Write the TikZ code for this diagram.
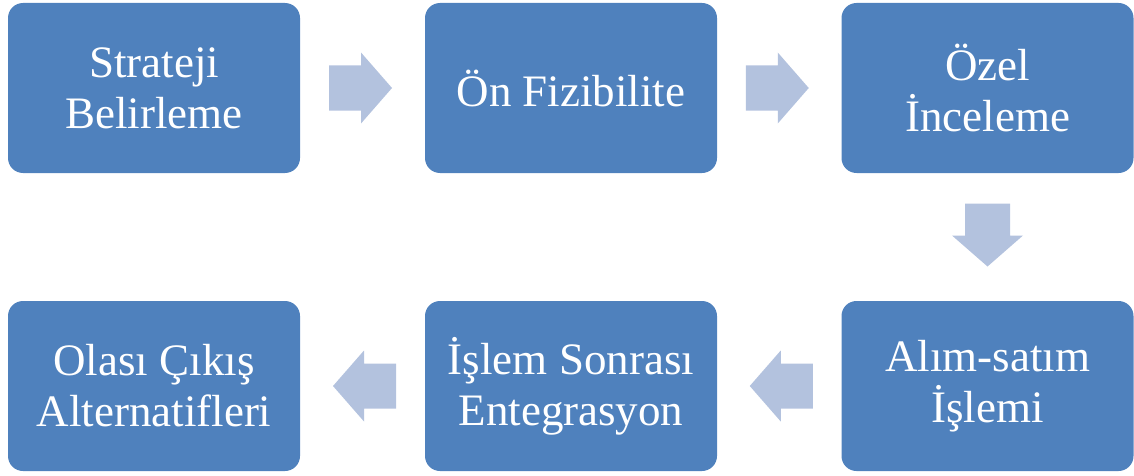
\documentclass[tikz,border=0pt]{standalone}
\usepackage{fontspec}
\setmainfont{Liberation Serif}
\usetikzlibrary{calc}
\definecolor{boxblue}{HTML}{4F81BD}
\definecolor{arrowblue}{HTML}{B3C2DE}
\tikzset{
  stepbox/.style={fill=boxblue, rounded corners=15pt, minimum width=292pt, minimum height=170pt,
    text=white, align=center, inner sep=0pt,
    font=\fontsize{45}{51}\selectfont},
  blockarrow/.pic={\fill[arrowblue] (-33.5,-22.5) -- (-1.5,-22.5) -- (-1.5,-35.5) -- (29.5,0) -- (-1.5,35.5) -- (-1.5,22.5) -- (-33.5,22.5) -- cycle;}
}
\begin{document}
\begin{tikzpicture}[x=1pt,y=1pt]
\useasboundingbox (0,0) rectangle (1134,475);
\node[stepbox] (s1) at (154,387) {Strateji\\Belirleme};
\node[stepbox] (s2) at (571,387) {Ön Fizibilite};
\node[stepbox] (s3) at (987.5,387) {Özel\\İnceleme};
\node[stepbox] (s4) at (987.5,89) {Alım-satım\\İşlemi};
\node[stepbox] (s5) at (571,89) {İşlem Sonrası\\Entegrasyon};
\node[stepbox] (s6) at (154,89) {Olası Çıkış\\Alternatifleri};
\pic at ($(s1.east)!0.5!(s2.west)$) {blockarrow};
\pic at ($(s2.east)!0.5!(s3.west)$) {blockarrow};
\pic[rotate=-90] at ($(s3.south)!0.5!(s4.north)$) {blockarrow};
\pic[rotate=180] at ($(s4.west)!0.5!(s5.east)$) {blockarrow};
\pic[rotate=180] at ($(s5.west)!0.5!(s6.east)$) {blockarrow};
\end{tikzpicture}
\end{document}
